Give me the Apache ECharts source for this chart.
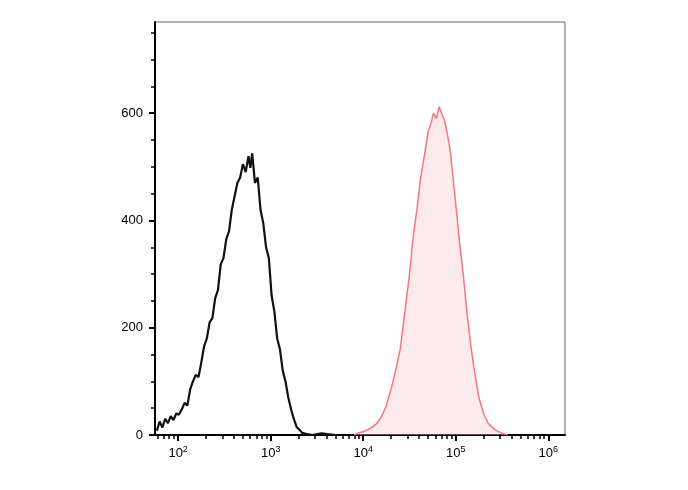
<!DOCTYPE html>
<html>
<head>
<meta charset="utf-8">
<script src="https://cdn.jsdelivr.net/npm/echarts@6/dist/echarts.min.js"></script>
<style>html,body{margin:0;padding:0;background:#fff}#chart{width:688px;height:490px}</style>
</head>
<body>
<div id="chart"></div>
<script>
// x values are log10 of intensity
let blackX = [1.77, 1.80, 1.83, 1.86, 1.89, 1.92, 1.95, 1.98, 2.01, 2.04, 2.07, 2.10, 2.13, 2.16, 2.19, 2.22, 2.25, 2.28, 2.31, 2.34, 2.37, 2.40, 2.43, 2.46, 2.49, 2.52, 2.55, 2.58, 2.61, 2.64, 2.67, 2.70, 2.73, 2.76, 2.78, 2.80, 2.83, 2.86, 2.89, 2.92, 2.95, 2.98, 3.01, 3.04, 3.07, 3.10, 3.13, 3.16, 3.19, 3.22, 3.25, 3.28, 3.31, 3.34, 3.38, 3.45, 3.55, 3.70];
let blackY = [8, 25, 14, 30, 22, 35, 28, 40, 38, 48, 60, 55, 85, 100, 112, 108, 135, 165, 180, 210, 218, 255, 270, 318, 330, 365, 380, 420, 445, 470, 480, 505, 490, 520, 498, 525, 470, 480, 420, 395, 350, 330, 260, 230, 180, 160, 120, 100, 70, 48, 30, 15, 10, 4, 2, 0, 3, 0];
let pinkX = [3.90, 3.95, 4.00, 4.05, 4.10, 4.15, 4.20, 4.25, 4.30, 4.35, 4.40, 4.45, 4.50, 4.54, 4.58, 4.62, 4.66, 4.70, 4.73, 4.76, 4.79, 4.82, 4.85, 4.88, 4.91, 4.94, 4.97, 5.00, 5.04, 5.08, 5.12, 5.16, 5.20, 5.25, 5.30, 5.35, 5.42, 5.50, 5.56];
let pinkY = [0, 4, 6, 10, 15, 22, 35, 55, 85, 120, 160, 230, 300, 370, 420, 480, 520, 565, 580, 600, 590, 612, 598, 585, 560, 530, 480, 430, 360, 300, 230, 170, 120, 70, 40, 22, 10, 3, 0];
let xMin = 1.75, xMax = 6.18;
let decades = [2, 3, 4, 5, 6];
let yMajor = [0, 200, 400, 600];

let minorX = [];
for (let d = 1; d <= 6; d++) {
	for (let m = 2; m <= 9; m++) {
		let v = d + Math.log10(m);
		if (v > xMin && v < xMax) minorX.push(v);
	}
}
let minorY = [];
for (let v = 0; v <= 750; v += 50) minorY.push(v);

function pairs(xs, ys) {
	return xs.map((x, i) => [x, ys[i]]);
}

let chart = echarts.init(document.getElementById('chart'));
let sup = {'2': '²'};
let option = {
	animation: false,
	grid: {left: 155, right: 123, top: 22, bottom: 55},
	xAxis: [{
		type: 'value', min: xMin, max: xMax,
		axisLine: {lineStyle: {color: '#000', width: 2}},
		splitLine: {show: false},
		axisTick: {customValues: decades, length: 6, lineStyle: {color: '#000', width: 2}},
		axisLabel: {
			customValues: decades, color: '#000', margin: 10,
			formatter: v => '{b|10}{s|' + Math.round(v) + '}',
			rich: {b: {fontSize: 13, fontFamily: 'Liberation Sans'}, s: {fontSize: 9, verticalAlign: 'top', padding: [0, 0, 8, 0], fontFamily: 'Liberation Sans'}}
		}
	}, {
		type: 'value', min: xMin, max: xMax, position: 'bottom',
		axisLine: {show: false}, splitLine: {show: false}, axisLabel: {show: false},
		axisTick: {customValues: minorX, length: 4, lineStyle: {color: '#000', width: 1.5}}
	}],
	yAxis: [{
		type: 'value', min: 0, max: 770,
		axisLine: {show: true, lineStyle: {color: '#000', width: 2}},
		splitLine: {show: false},
		axisTick: {show: true, customValues: yMajor, length: 6, lineStyle: {color: '#000', width: 2}},
		axisLabel: {customValues: yMajor, color: '#000', fontSize: 13, fontFamily: 'Liberation Sans', margin: 12}
	}, {
		type: 'value', min: 0, max: 770, position: 'left',
		axisLine: {show: false}, splitLine: {show: false}, axisLabel: {show: false},
		axisTick: {show: true, customValues: minorY, length: 4, lineStyle: {color: '#000', width: 1.5}}
	}],
	series: [{
		type: 'line', data: pairs(pinkX, pinkY), showSymbol: false,
		lineStyle: {color: '#f07a80', width: 1.5},
		areaStyle: {color: 'rgba(250,200,205,0.55)'}
	}, {
		type: 'line', data: pairs(blackX, blackY), showSymbol: false,
		lineStyle: {color: '#111', width: 2.2}
	}],
	graphic: [{
		type: 'rect', shape: {x: 155, y: 22, width: 410, height: 413},
		style: {fill: 'none', stroke: '#666', lineWidth: 1}, silent: true
	}]
};
chart.setOption(option);
</script>
</body>
</html>
